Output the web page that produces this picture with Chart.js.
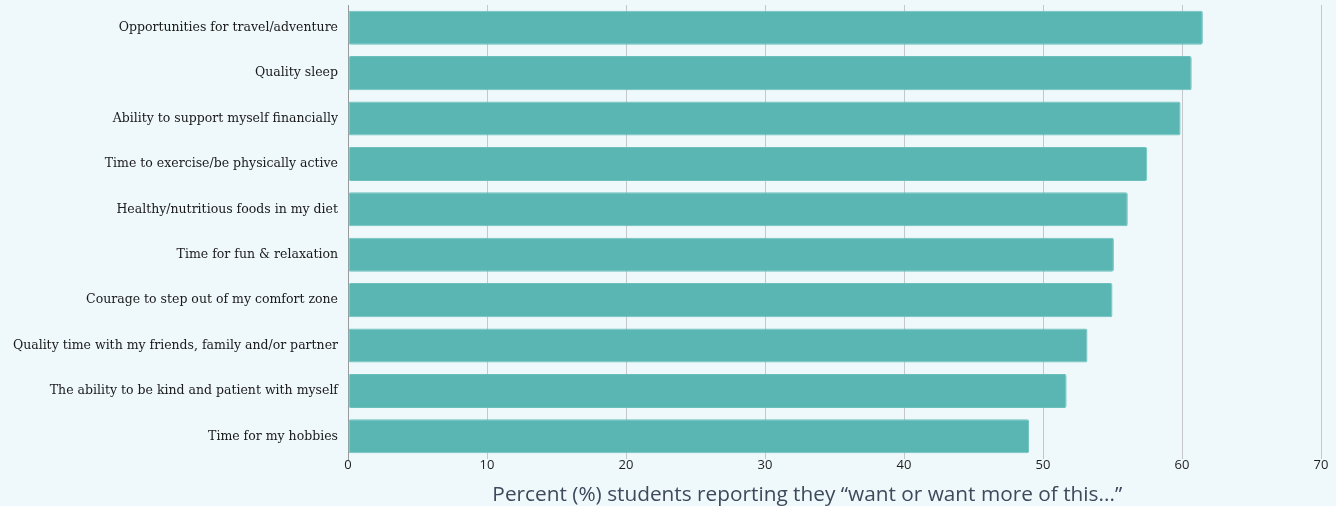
<!DOCTYPE html>
<html><head><meta charset="utf-8">
<script src="https://cdn.jsdelivr.net/npm/chart.js@4.4.1/dist/chart.umd.min.js"></script>
<style>
html,body{margin:0;padding:0;background:#eff8fb;}
#wrap{width:1336px;height:506px;position:relative;}
</style></head>
<body><div id="wrap"><canvas id="c" width="1336" height="506"></canvas></div>
<script>
const categories = [
  "Opportunities for travel/adventure",
  "Quality sleep",
  "Ability to support myself financially",
  "Time to exercise/be physically active",
  "Healthy/nutritious foods in my diet",
  "Time for fun & relaxation",
  "Courage to step out of my comfort zone",
  "Quality time with my friends, family and/or partner",
  "The ability to be kind and patient with myself",
  "Time for my hobbies"
];
const percentWanting = [61.5, 60.7, 59.9, 57.5, 56.1, 55.1, 55.0, 53.2, 51.7, 49.0];
const xTicks = [0, 10, 20, 30, 40, 50, 60, 70];
const axisTitle = "Percent (%) students reporting they \u201cwant or want more of this...\u201d";

const titlePlugin = {
  id: 'bottomTitle',
  afterDraw(chart) {
    const {ctx, chartArea} = chart;
    ctx.save();
    ctx.font = '20.8px "Open Sans"';
    ctx.fillStyle = '#3d4a5c';
    ctx.textAlign = 'center';
    ctx.textBaseline = 'middle';
    ctx.fillText(axisTitle, chartArea.left + (chartArea.right - chartArea.left) * 0.472, chart.height - 11);
    ctx.restore();
  }
};

new Chart(document.getElementById('c'), {
  type: 'bar',
  data: {
    labels: categories,
    datasets: [{
      data: percentWanting,
      backgroundColor: '#5ab6b2',
      borderColor: '#6cc0bc',
      borderWidth: 1,
      borderRadius: 2,
      borderSkipped: false,
      barPercentage: 0.75,
      categoryPercentage: 1.0
    }]
  },
  options: {
    indexAxis: 'y',
    responsive: false,
    animation: false,
    layout: {padding: {top: 5, right: 15, bottom: 0, left: 0}},
    plugins: {legend: {display: false}, tooltip: {enabled: false}},
    scales: {
      x: {
        min: 0, max: 70,
        afterBuildTicks(scale) { scale.ticks = xTicks.map(v => ({value: v})); },
        afterFit(scale) { scale.height = 47; },
        grid: {color: '#c4c8ca', lineWidth: 1, drawTicks: false},
        border: {display: false},
        ticks: {font: {family: 'Open Sans', size: 13, weight: '500'}, color: '#1f1f1f', padding: -2, maxRotation: 0}
      },
      y: {
        afterFit(scale) { scale.width = 348; },
        grid: {display: true, drawOnChartArea: false, drawTicks: true, tickLength: 10, color: 'rgba(0,0,0,0)'},
        border: {display: true, color: '#9a9a9a', width: 1},
        ticks: {font: {family: 'DejaVu Serif', size: 12.5, lineHeight: 0.8}, color: '#1a1a1a', padding: 0}
      }
    }
  },
  plugins: [titlePlugin]
});
</script></body></html>
